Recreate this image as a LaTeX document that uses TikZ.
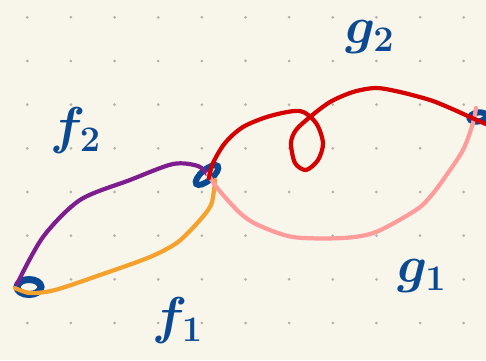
\documentclass[tikz,border=0pt]{standalone}
\usepackage{graphicx}
\usetikzlibrary{shapes.geometric}
\definecolor{bg}{HTML}{F8F6EB}
\definecolor{dotc}{HTML}{B4B1A8}
\definecolor{ink}{HTML}{0B4A93}
\definecolor{fpurple}{HTML}{7E1E8E}
\definecolor{forange}{HTML}{F5A12B}
\definecolor{gred}{HTML}{D50000}
\definecolor{gpink}{HTML}{FF9B9B}
\newcommand{\biglbl}[1]{\scalebox{2.5}{\boldmath$#1$}}
\begin{document}
\begin{tikzpicture}[x=1pt,y=-1pt,
  blob/.style={ellipse, draw=ink, inner sep=0pt, line width=6pt},
  stroke/.style={line width=4.2pt, line cap=round, line join=round},
  lbl/.style={text=ink, inner sep=0pt, font=\huge}]
\fill[bg] (0,0) rectangle (486,360);
\useasboundingbox (0,0) rectangle (486,360);
\foreach \i in {0,...,10}
  \foreach \j in {0,...,7}
    \fill[dotc] (27.3+43.64*\i, 17.3+43.67*\j) circle (1.5);
% nodes
\node[blob, minimum width=24pt, minimum height=15pt, line width=7pt] (L) at (29,287) {};
\node[blob, minimum width=28pt, minimum height=11pt, rotate=40] (M) at (207,175) {};
\node[blob, minimum width=17pt, minimum height=9pt, rotate=10] (R) at (478,117) {};
% f2 (purple)
\draw[stroke, fpurple] plot[smooth] coordinates {(17,284) (43,237) (80,200) (130,180) (173,164) (198,166) (207,174)};
% f1 (orange)
\draw[stroke, forange] plot[smooth] coordinates {(15,288) (30,293) (55,290) (100,275) (150,257) (178,242) (200,220) (211,205) (214,190) (215,180)};
% g1 (pink)
\draw[stroke, gpink] plot[smooth] coordinates {(208,174) (218,189) (240,213) (258,225) (293,237) (343,238) (376,232) (416,210) (430,197) (443,180) (463,150) (473,123) (476,108)};
% g2 (red)
\draw[stroke, gred] plot[smooth] coordinates {(209,178) (213,163) (225,143) (243,127) (270,116) (300,111) (316,123) (323,143) (318,160) (306,170) (295,163) (291,143) (296,130) (310,117) (330,102) (353,92) (376,88) (400,92) (430,100) (450,108) (470,117) (488,125)};
% labels
\node[lbl] (f2) at (76,131) {\biglbl{f_2}};
\node[lbl] (g2) at (370,37) {\biglbl{g_2}};
\node[lbl] (f1) at (178,321) {\biglbl{f_1}};
\node[lbl] (g1) at (422,276) {\biglbl{g_1}};
\end{tikzpicture}
\end{document}
